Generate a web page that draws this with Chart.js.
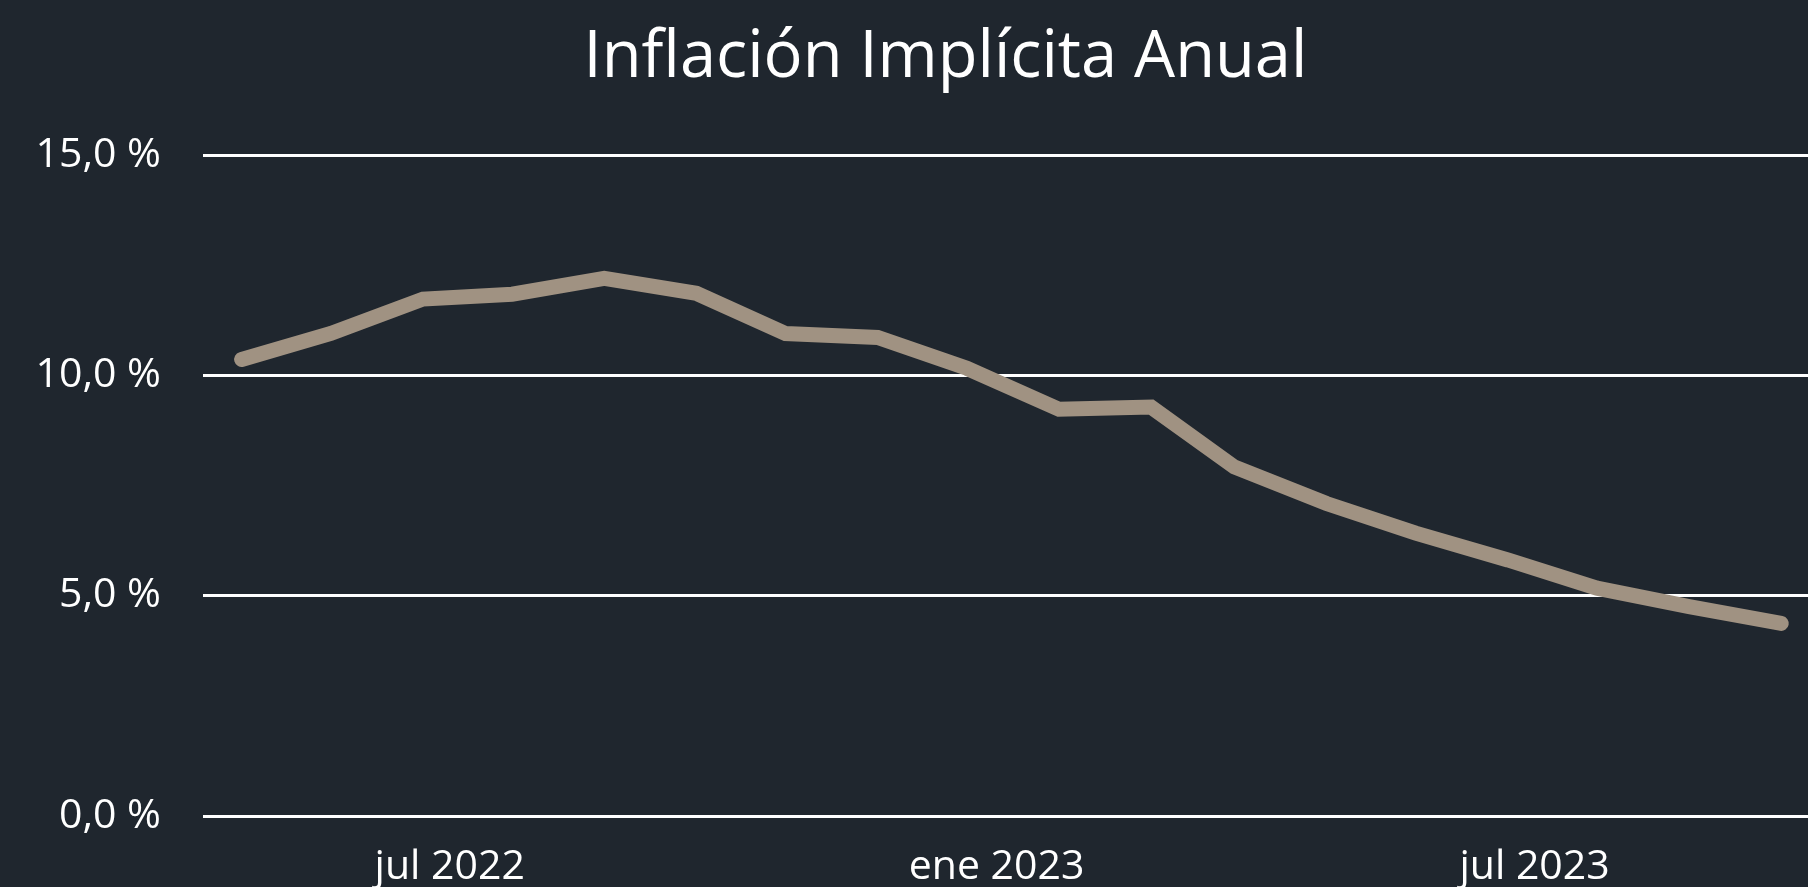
<!DOCTYPE html>
<html lang="es">
<head>
<meta charset="utf-8">
<title>Inflación Implícita Anual</title>
<script src="https://cdn.jsdelivr.net/npm/chart.js@4.4.1/dist/chart.umd.min.js"></script>
<style>
  html, body { margin: 0; padding: 0; background: #1f262e; }
  #wrap { width: 1808px; height: 887px; position: relative; }
</style>
</head>
<body>
<div id="wrap"><canvas id="chart"></canvas></div>
<script>
const fechas = ["2022-04-22", "2022-05-22", "2022-06-22", "2022-07-22", "2022-08-22", "2022-09-22",
  "2022-10-22", "2022-11-22", "2022-12-22", "2023-01-22", "2023-02-22", "2023-03-22",
  "2023-04-22", "2023-05-22", "2023-06-22", "2023-07-22", "2023-08-22", "2023-09-22"];
const inflacion = [10.36, 10.95, 11.73, 11.84, 12.20, 11.86, 10.95, 10.86, 10.16, 9.23, 9.28, 7.92,
  7.09, 6.42, 5.81, 5.17, 4.75, 4.37];

const xTickFechas = ["2022-07-01", "2023-01-01", "2023-07-01"];
const xTickLabels = ["jul 2022", "ene 2023", "jul 2023"];
const yTicks = [0, 5, 10, 15];

const xMinFecha = "2022-04-09";
const xMaxFecha = "2023-10-01";

function dia(s) {
  const p = s.split("-").map(Number);
  return Date.UTC(p[0], p[1] - 1, p[2]) / 86400000;
}

const font = "'Open Sans', 'Noto Sans', sans-serif";

// the title in the original sits a bit left of the plot's centre
const moverTitulo = {
  id: "moverTitulo",
  afterLayout(chart) {
    if (chart.titleBlock) {
      chart.titleBlock.left = 0;
      chart.titleBlock.right = 1891;
    }
  }
};

new Chart(document.getElementById("chart"), {
  type: "line",
  data: {
    datasets: [{
      label: "Inflación Implícita Anual",
      data: fechas.map((f, i) => ({ x: dia(f), y: inflacion[i] })),
      borderColor: "#a09282",
      borderWidth: 15,
      borderCapStyle: "round",
      borderJoinStyle: "miter",
      pointRadius: 0,
      tension: 0,
      fill: false
    }]
  },
  options: {
    responsive: true,
    maintainAspectRatio: false,
    animation: false,
    layout: { padding: 0 },
    plugins: {
      legend: { display: false },
      tooltip: { enabled: false },
      title: {
        display: true,
        text: "Inflación Implícita Anual",
        color: "#ffffff",
        font: { family: font, size: 65, weight: "normal" },
        padding: { top: 19, bottom: 58 }
      }
    },
    scales: {
      x: {
        type: "linear",
        min: dia(xMinFecha),
        max: dia(xMaxFecha),
        grid: { display: false },
        border: { display: false },
        afterBuildTicks: scale => {
          scale.ticks = xTickFechas.map(f => ({ value: dia(f) }));
        },
        afterFit: scale => { scale.height = 71; },
        ticks: {
          autoSkip: false,
          maxRotation: 0,
          padding: 19,
          color: "#ffffff",
          font: { family: font, size: 41 },
          callback: (v, i) => xTickLabels[i]
        }
      },
      y: {
        min: 0,
        max: 15,
        afterBuildTicks: scale => {
          scale.ticks = yTicks.map(v => ({ value: v }));
        },
        afterFit: scale => { scale.width = 203; },
        grid: { color: "#ffffff", lineWidth: 3, drawTicks: false },
        border: { display: false },
        ticks: {
          padding: 42,
          color: "#ffffff",
          font: { family: font, size: 41 },
          callback: v => v.toFixed(1).replace(".", ",") + " %"
        }
      }
    }
  },
  plugins: [moverTitulo]
});
</script>
</body>
</html>
